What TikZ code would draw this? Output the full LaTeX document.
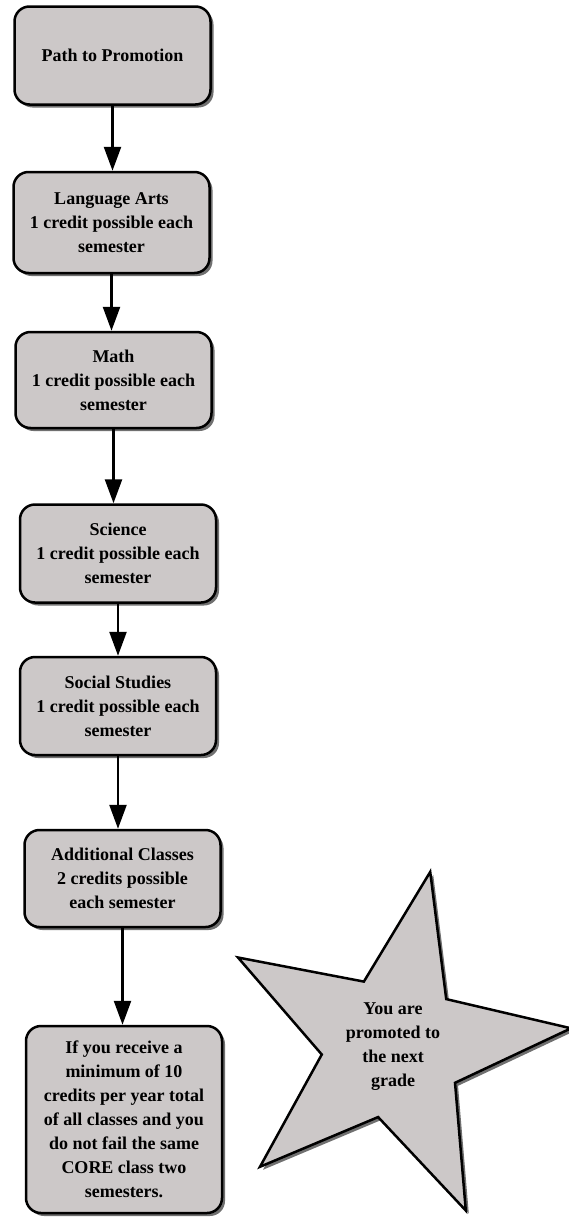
\documentclass[tikz,border=0pt]{standalone}
\usepackage{fontspec}
\setmainfont{Liberation Serif}
\usepackage{tikz}
\usetikzlibrary{shapes.geometric, arrows.meta, positioning, shadows}
\definecolor{cajagris}{RGB}{204,200,200}
\tikzstyle{etapa} = [draw=black, fill=cajagris, line width=2.5pt, rectangle, rounded corners=15pt, align=center, inner sep=4pt, minimum width=196pt, minimum height=98pt, font=\bfseries\fontsize{18}{24}\selectfont, drop shadow={shadow xshift=3pt, shadow yshift=-3pt, fill=black!80, opacity=0.7}]
\tikzstyle{estrella} = [draw=black, fill=cajagris, line width=2.5pt, star, star points=5, star point ratio=2.5, shape border rotate=-12, minimum size=358pt, inner sep=0pt, align=center, font=\bfseries\fontsize{18}{24}\selectfont, drop shadow={shadow xshift=3pt, shadow yshift=-3pt, fill=black!80, opacity=0.7}]
\tikzstyle{flecha} = [line width=2.5pt, -{Triangle[length=24pt, width=17pt]}]

\begin{document}
\begin{tikzpicture}[x=1pt, y=-1pt]
	\useasboundingbox (0,0) rectangle (569,1218);
	\node [etapa] (promocion) at (112.5,55.5) {Path to Promotion};
	\node [etapa, minimum height=101pt] (lengua) at (111.5,222.5) {Language Arts\\1 credit possible each\\semester};
	\node [etapa, minimum height=96pt] (mate) at (113.5,380) {Math\\1 credit possible each\\semester};
	\node [etapa] (ciencia) at (118,553.5) {Science\\1 credit possible each\\semester};
	\node [etapa] (sociales) at (118,706) {Social Studies\\1 credit possible each\\semester};
	\node [etapa, minimum height=97pt] (adicionales) at (122.5,878.5) {Additional Classes\\2 credits possible\\each semester};
	\node [etapa, minimum height=187pt] (requisito) at (124,1119.5) {If you receive a\\minimum of 10\\credits per year total\\of all classes and you\\do not fail the same\\CORE class two\\semesters.};
	\node [estrella] (promovido) at (393,1047) {You are\\promoted to\\the next\\grade};

	\draw [flecha] (promocion.south) -- (promocion.south |- lengua.north);
	\draw [flecha] (lengua.south) -- (lengua.south |- mate.north);
	\draw [flecha] (mate.south) -- (mate.south |- ciencia.north);
	\draw [flecha] (ciencia.south) -- (ciencia.south |- sociales.north);
	\draw [flecha] (sociales.south) -- (sociales.south |- adicionales.north);
	\draw [flecha] (adicionales.south) -- (adicionales.south |- requisito.north);
\end{tikzpicture}
\end{document}
